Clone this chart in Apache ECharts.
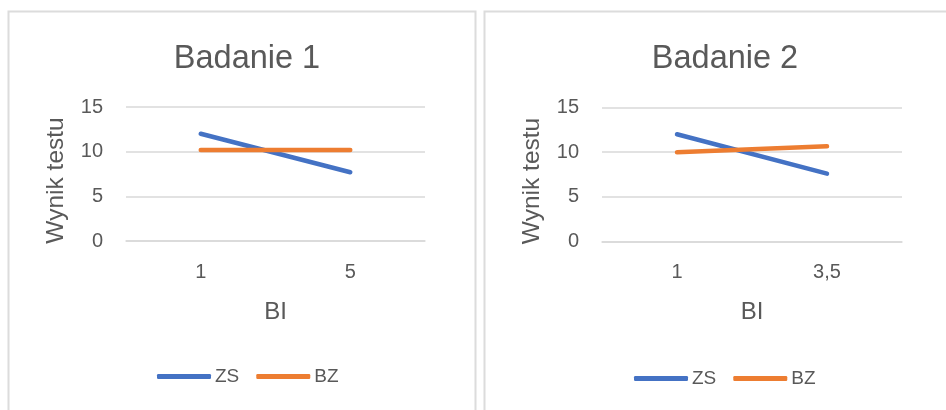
<!DOCTYPE html>
<html>
<head>
<meta charset="utf-8">
<script src="https://cdn.jsdelivr.net/npm/echarts@6/dist/echarts.min.js"></script>
<style>
  html, body { margin: 0; padding: 0; background: #fff; }
  #chart { width: 946px; height: 410px; }
</style>
</head>
<body>
<div id="chart"></div>
<script>
// Study 1
const categories1 = ['1', '5'];
const zs1 = [12.0, 7.7];
const bz1 = [10.2, 10.2];
// Study 2
const categories2 = ['1', '3,5'];
const zs2 = [12.0, 7.6];
const bz2 = [10.0, 10.65];

const titles = ['Badanie 1', 'Badanie 2'];
const yTicks = [0, 5, 10, 15];
const seriesNames = ['ZS', 'BZ'];

const FONT = '"Liberation Sans", Arial, sans-serif';
const TEXT = '#595959';
const GRID = '#d9d9d9';
const BLUE = '#4472C4';
const ORANGE = '#ED7D31';

const grids = [
  { left: 126, top: 107, width: 299, height: 134 },
  { left: 602, top: 107.5, width: 300, height: 134 }
];
const cats = [categories1, categories2];
const data = [[zs1, bz1], [zs2, bz2]];

function xAxis(i) {
  return {
    type: 'category', gridIndex: i, data: cats[i], boundaryGap: true,
    axisLine: { show: true, lineStyle: { color: GRID, width: 1.5 } },
    axisTick: { show: false },
    axisLabel: { color: TEXT, fontSize: 20, fontFamily: FONT, margin: 21 },
    name: 'BI', nameLocation: 'middle', nameGap: 59,
    nameTextStyle: { color: TEXT, fontSize: 24, fontFamily: FONT }
  };
}
function yAxis(i) {
  return {
    type: 'value', gridIndex: i, min: yTicks[0], max: yTicks[yTicks.length - 1], interval: 5,
    axisLine: { show: false }, axisTick: { show: false },
    splitLine: { lineStyle: { color: GRID, width: 1.5 } },
    axisLabel: { color: TEXT, fontSize: 20, fontFamily: FONT, margin: 23 },
    name: 'Wynik testu', nameLocation: 'middle', nameGap: 57, nameRotate: 90,
    nameTextStyle: { color: TEXT, fontSize: 24.5, fontFamily: FONT, padding: [0, 13, 0, 0] }
  };
}

const series = [];
[0, 1].forEach(i => {
  seriesNames.forEach((n, k) => {
    series.push({
      name: n, type: 'line', xAxisIndex: i, yAxisIndex: i,
      data: data[i][k], symbol: 'none', silent: true,
      lineStyle: { width: 4.5, color: k === 0 ? BLUE : ORANGE, cap: 'round' },
      itemStyle: { color: k === 0 ? BLUE : ORANGE }
    });
  });
});

const legendBase = {
  icon: 'roundRect', itemWidth: 54, itemHeight: 5, itemGap: 17,
  textStyle: { color: TEXT, fontSize: 19, fontFamily: FONT, padding: [0, 0, 0, -1] }
};

const chart = echarts.init(document.getElementById('chart'), null, { renderer: 'canvas' });
chart.setOption({
  animation: false,
  backgroundColor: '#fff',
  graphic: [
    { type: 'rect', shape: { x: 8.5, y: 11.5, width: 467, height: 430 },
      style: { fill: 'none', stroke: '#dcdcdc', lineWidth: 2 }, z: -1 },
    { type: 'rect', shape: { x: 484.5, y: 11.5, width: 480, height: 430 },
      style: { fill: 'none', stroke: '#dcdcdc', lineWidth: 2 }, z: -1 }
  ],
  title: [
    { text: titles[0], left: 242, top: 38, textAlign: 'center',
      textStyle: { color: TEXT, fontSize: 32.5, fontWeight: 'normal', fontFamily: FONT } },
    { text: titles[1], left: 720, top: 38, textAlign: 'center',
      textStyle: { color: TEXT, fontSize: 32.5, fontWeight: 'normal', fontFamily: FONT } }
  ],
  legend: [
    Object.assign({ data: seriesNames.map(n => ({ name: n })), left: 152, top: 362 }, legendBase),
    Object.assign({ data: seriesNames.map(n => ({ name: n })), left: 629, top: 364 }, legendBase)
  ],
  grid: grids,
  xAxis: [xAxis(0), xAxis(1)],
  yAxis: [yAxis(0), yAxis(1)],
  series: series
});
</script>
</body>
</html>
